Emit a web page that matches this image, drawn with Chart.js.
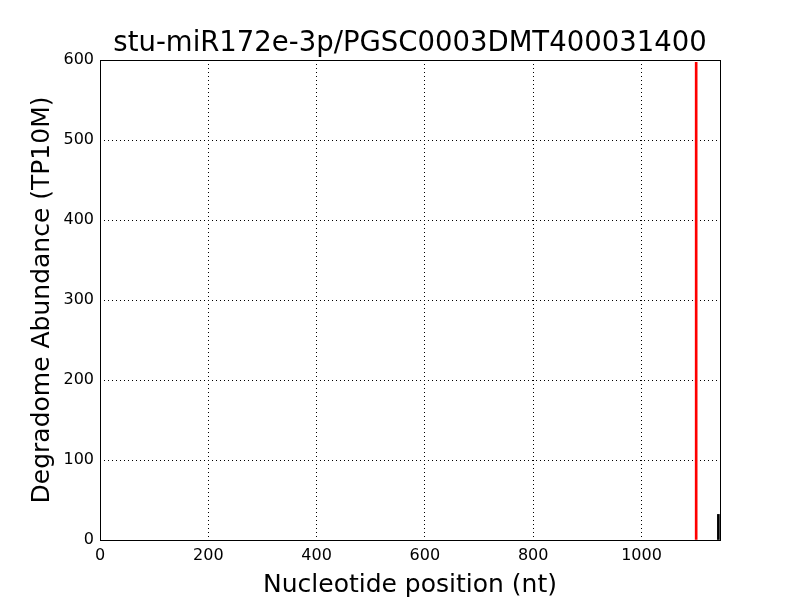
<!DOCTYPE html>
<html>
<head>
<meta charset="utf-8">
<script src="https://cdn.jsdelivr.net/npm/chart.js@4"></script>
<style>
  html, body { margin: 0; padding: 0; background: #fff; }
  #wrap { width: 800px; height: 600px; }
</style>
</head>
<body>
<div id="wrap"><canvas id="chart" width="800" height="600"></canvas></div>
<script>
// Degradome peaks
const chartTitle = 'stu-miR172e-3p/PGSC0003DMT400031400';
const sitePositions = [1101];   // cleavage site (red)
const siteAbundance = [597];
const otherPositions = [1142];  // other tags (black)
const otherAbundance = [32];
const xMax = 1145;
const yTicks = [0, 100, 200, 300, 400, 500, 600];

const FONT = "'DejaVu Sans', sans-serif";

// box round the plot area, title centred over it
const frame = {
  id: 'frame',
  afterDatasetsDraw(chart) {
    const a = chart.chartArea, ctx = chart.ctx;
    ctx.save();
    ctx.strokeStyle = '#000';
    ctx.lineWidth = 1;
    ctx.strokeRect(Math.round(a.left) + 0.5, Math.round(a.top) + 0.5,
      Math.round(a.right - a.left), Math.round(a.bottom - a.top));
    ctx.fillStyle = '#000';
    ctx.font = '27.5px ' + FONT;
    ctx.textAlign = 'center';
    ctx.textBaseline = 'middle';
    ctx.fillText(chartTitle, (a.left + a.right) / 2, 44);
    ctx.restore();
  }
};

const toPts = (xs, ys) => xs.map((x, i) => ({ x: x, y: ys[i] }));

new Chart(document.getElementById('chart'), {
  type: 'bar',
  data: {
    datasets: [
      {
        data: toPts(sitePositions, siteAbundance),
        backgroundColor: '#ff0000',
        barThickness: 2,
        grouped: false,
      },
      {
        data: toPts(otherPositions, otherAbundance),
        backgroundColor: '#000000',
        barThickness: 2,
        grouped: false,
      },
    ],
  },
  options: {
    responsive: false,
    animation: false,
    layout: { padding: { left: 0, right: 80, top: 60, bottom: 0 } },
    plugins: {
      legend: { display: false },
      tooltip: { enabled: false },
    },
    scales: {
      x: {
        type: 'linear',
        min: 0,
        max: xMax,
        offset: false,
        grid: { offset: false, color: '#000', lineWidth: 1, drawTicks: false },
        border: { display: false, dash: [1, 3] },
        ticks: {
          stepSize: 200,
          includeBounds: false,
          color: '#000',
          padding: 6,
          font: { family: FONT, size: 16 },
          callback: v => String(v),
        },
        title: {
          display: true,
          text: 'Nucleotide position (nt)',
          color: '#000',
          font: { family: FONT, size: 25 },
          padding: { top: 6, bottom: 0 },
        },
        afterFit(scale) { scale.height = 60; },
      },
      y: {
        min: 0,
        max: 600,
        grid: { color: '#000', lineWidth: 1, drawTicks: false },
        border: { display: false, dash: [1, 3] },
        afterBuildTicks(scale) { scale.ticks = yTicks.map(v => ({ value: v })); },
        ticks: {
          color: '#000',
          padding: 6,
          font: { family: FONT, size: 16 },
        },
        title: {
          display: true,
          text: 'Degradome Abundance (TP10M)',
          color: '#000',
          font: { family: FONT, size: 25 },
          padding: { top: 27, bottom: 0 },
        },
        afterFit(scale) { scale.width = 100; },
      },
    },
  },
  plugins: [frame],
});
</script>
</body>
</html>
